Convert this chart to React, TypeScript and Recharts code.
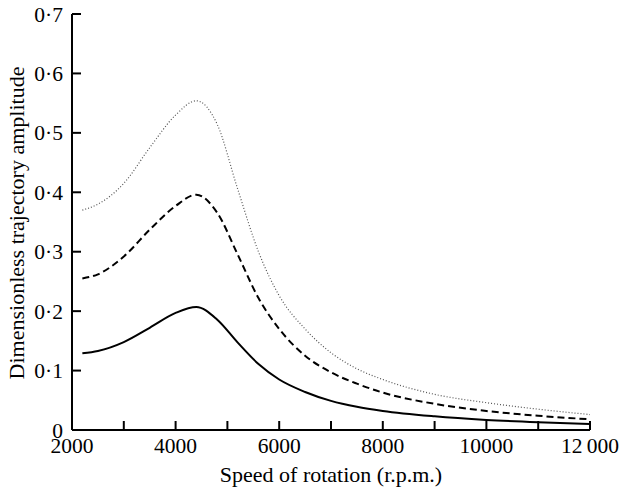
import React from "react";
import {
  LineChart,
  Line,
  XAxis,
  YAxis,
  Label,
} from "recharts";

// speed of rotation (r.p.m.)
const speed = [
  2200, 2500, 3000, 3500, 4000, 4400, 4800, 5200, 5600, 6000, 6500, 7000,
  7500, 8000, 9000, 10000, 11000, 12000,
];

// dimensionless trajectory amplitude, three cases
const solid = [
  0.129, 0.133, 0.148, 0.172, 0.197, 0.207, 0.186, 0.147, 0.111, 0.085,
  0.064, 0.049, 0.039, 0.032, 0.023, 0.017, 0.013, 0.010,
];
const dashed = [
  0.255, 0.262, 0.292, 0.337, 0.377, 0.396, 0.366, 0.295, 0.222, 0.17,
  0.125, 0.097, 0.078, 0.063, 0.044, 0.032, 0.024, 0.018,
];
const dotted = [
  0.37, 0.38, 0.415, 0.475, 0.53, 0.554, 0.515, 0.405, 0.3, 0.226, 0.17,
  0.13, 0.103, 0.085, 0.06, 0.046, 0.035, 0.026,
];

const xTicks = [2000, 3000, 4000, 5000, 6000, 7000, 8000, 9000, 10000, 11000, 12000];
const yTicks = [0, 0.1, 0.2, 0.3, 0.4, 0.5, 0.6, 0.7];

const data = speed.map((s, i) => ({
  speed: s,
  solid: solid[i],
  dashed: dashed[i],
  dotted: dotted[i],
}));

const font = "Liberation Serif, Times New Roman, serif";

const fmtX = (v: number) => {
  if (v % 2000 !== 0) return "";
  if (v === 12000) return "12\u2009000";
  return String(v);
};
const fmtY = (v: number) =>
  v === 0 ? "0" : "0\u00B7" + Math.round(v * 10);

export default function App() {
  return (
    <div
      style={{
        position: "absolute",
        left: 0,
        top: 0,
        background: "#fff",
        fontFamily: font,
      }}
    >
      <LineChart
        width={619}
        height={487}
        data={data}
        margin={{ top: 14, right: 29, bottom: 0, left: 0 }}
      >
        <XAxis
          dataKey="speed"
          type="number"
          domain={[2000, 12000]}
          ticks={xTicks}
          interval={0}
          tickFormatter={fmtX}
          height={57}
          tickSize={-9}
          tickMargin={17}
          axisLine={{ stroke: "#000", strokeWidth: 2 }}
          tickLine={{ stroke: "#000", strokeWidth: 2 }}
          tick={{ fill: "#000", fontSize: 21.5, fontFamily: font }}
        >
          <Label
            value="Speed of rotation (r.p.m.)"
            position="insideBottom"
            offset={5}
            style={{ fill: "#000", fontSize: 22, fontFamily: font }}
          />
        </XAxis>
        <XAxis
          xAxisId="top"
          dataKey="speed"
          type="number"
          domain={[2000, 12000]}
          orientation="top"
          height={0}
          tick={false}
          tickLine={false}
          axisLine={{ stroke: "#000", strokeWidth: 2 }}
        />
        <YAxis
          type="number"
          domain={[0, 0.7]}
          ticks={yTicks}
          interval={0}
          tickFormatter={fmtY}
          width={72}
          tickSize={-9}
          tickMargin={18}
          axisLine={{ stroke: "#000", strokeWidth: 2 }}
          tickLine={{ stroke: "#000", strokeWidth: 2 }}
          tick={{ fill: "#000", fontSize: 21.5, fontFamily: font }}
        >
          <Label
            content={() => (
              <text
                x={16}
                y={223}
                transform="rotate(-90 16 223)"
                textAnchor="middle"
                dominantBaseline="central"
                fill="#000"
                fontSize={22}
                style={{ fontFamily: font }}
              >
                Dimensionless trajectory amplitude
              </text>
            )}
          />
        </YAxis>
        <YAxis
          yAxisId="right"
          orientation="right"
          type="number"
          domain={[0, 0.7]}
          width={0}
          tick={false}
          tickLine={false}
          axisLine={{ stroke: "#000", strokeWidth: 2 }}
        />
        <Line
          type="monotone"
          dataKey="dotted"
          stroke="#555"
          strokeWidth={1.2}
          strokeDasharray="1 2"
          dot={false}
          isAnimationActive={false}
        />
        <Line
          type="monotone"
          dataKey="dashed"
          stroke="#000"
          strokeWidth={2}
          strokeDasharray="7 4"
          dot={false}
          isAnimationActive={false}
        />
        <Line
          type="monotone"
          dataKey="solid"
          stroke="#000"
          strokeWidth={2}
          dot={false}
          isAnimationActive={false}
        />
      </LineChart>
    </div>
  );
}
